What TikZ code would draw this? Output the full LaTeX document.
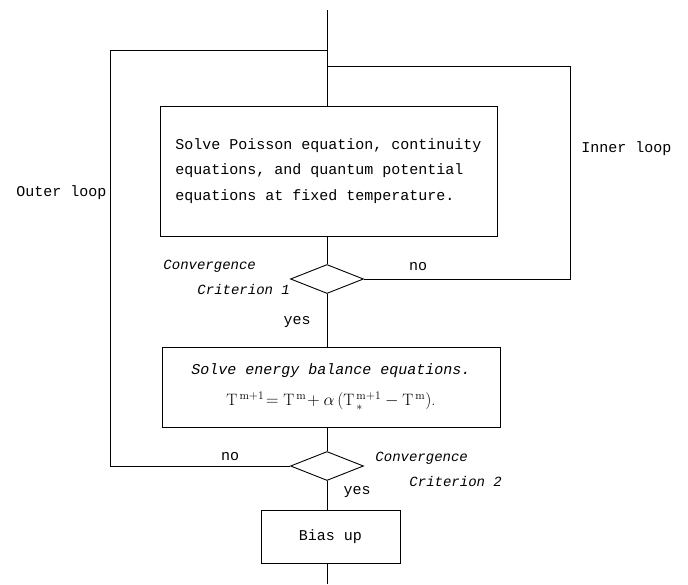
\documentclass[tikz,border=0pt]{standalone}
\usepackage{fontspec}
\setmonofont{Liberation Mono}
\usetikzlibrary{shapes.geometric}
\begin{document}
\begin{tikzpicture}[x=1pt,y=-1pt,line width=0.9pt,
  box/.style={draw,rectangle,inner sep=0pt,font=\ttfamily\fontsize{15}{25.5}\selectfont},
  dia/.style={draw,diamond,aspect=2.52,minimum width=73pt,minimum height=29pt,inner sep=0pt},
  lab/.style={inner sep=0pt,font=\ttfamily\fontsize{15}{18}\selectfont},
  ilab/.style={inner sep=0pt,font=\ttfamily\itshape\fontsize{14}{17}\selectfont}]
\useasboundingbox (0,0) rectangle (688,584);
\fill[white] (0,0) rectangle (688,584);
% nodes
\node[box,minimum width=337pt,minimum height=130pt,align=left] (b1) at (328.5,171)
  {Solve Poisson equation, continuity\\equations, and quantum potential\\equations at fixed temperature.};
\node[dia] (d1) at (327,279) {};
\node[box,minimum width=338pt,minimum height=80pt,align=center,font=\ttfamily\fontsize{15}{31}\selectfont] (b2) at (331,387)
  {\itshape Solve energy balance equations.\\
   \normalfont\fontsize{16.5}{18}\selectfont $\mathrm{T}^{\,\mathrm{m+1}}\!=\mathrm{T}^{\,\mathrm{m}}\!+\alpha\,(\mathrm{T}^{\,\mathrm{m+1}}_{\,*}-\mathrm{T}^{\,\mathrm{m}})$.};
\node[dia] (d2) at (327,466) {};
\node[box,minimum width=139pt,minimum height=53pt] (b3) at (330.5,536.5) {Bias up};
% coordinates
\coordinate (top) at (327,10);
\coordinate (bot) at (327,584);
\coordinate (o1) at (110,50);
\coordinate (o2) at (110,466);
\coordinate (i1) at (570,66);
\coordinate (i2) at (570,279);
% connectors
\draw (top) -- (top |- b1.north);
\draw (top |- o1) -- (o1) -- (o2) -- (d2.west);
\draw (top |- i1) -- (i1) -- (i2) -- (d1.east);
\draw (top |- b1.south) -- (d1.north);
\draw (d1.south) -- (d1.south |- b2.north);
\draw (d2.north |- b2.south) -- (d2.north);
\draw (d2.south) -- (d2.south |- b3.north);
\draw (d2.south |- b3.south) -- (bot);
% labels
\node[ilab,anchor=west] (c1a) at (163,266) {Convergence};
\node[ilab,anchor=west] (c1b) at (197,289) {Criterion 1};
\node[lab] (no1) at (418,267) {no};
\node[lab] (yes1) at (297,322) {yes};
\node[lab] (no2) at (230,457) {no};
\node[ilab,anchor=west] (c2a) at (375,458) {Convergence};
\node[ilab,anchor=west] (c2b) at (409,481) {Criterion 2};
\node[lab] (yes2) at (357,492) {yes};
\node[lab,anchor=west] (outer) at (16,193) {Outer loop};
\node[lab,anchor=west] (inner) at (581,149) {Inner loop};
\end{tikzpicture}
\end{document}
